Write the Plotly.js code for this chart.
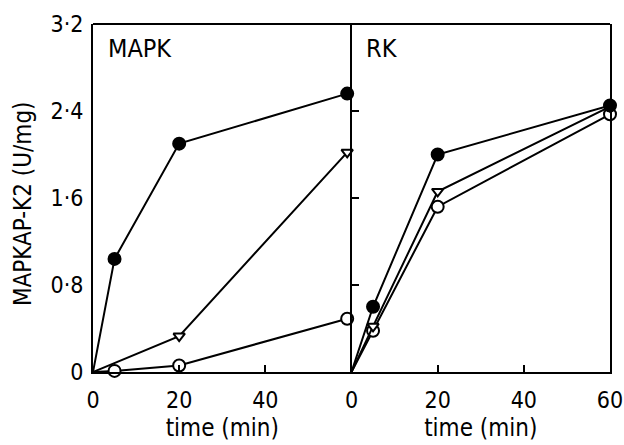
<!DOCTYPE html>
<html><head><meta charset="utf-8">
<script src="https://cdn.plot.ly/plotly-3.0.1.min.js"></script>
<style>body{margin:0;background:#fff}#c{width:624px;height:445px}</style>
</head><body><div id="c"></div>
<script>
// MAPK panel
const mapkFilledX = [0, 5, 20, 59];
const mapkFilledY = [0, 1.04, 2.10, 2.56];
const mapkTriX = [0, 20, 59];
const mapkTriY = [0, 0.33, 2.02];
const mapkOpenX = [0, 5, 20, 59];
const mapkOpenY = [0, 0.01, 0.06, 0.49];
// RK panel
const rkFilledX = [0, 5, 20, 60];
const rkFilledY = [0, 0.60, 2.00, 2.45];
const rkTriX = [0, 5, 20, 60];
const rkTriY = [0, 0.42, 1.66, 2.44];
const rkOpenX = [0, 5, 20, 60];
const rkOpenY = [0, 0.38, 1.52, 2.37];

const yTicks = [0, 0.8, 1.6, 2.4, 3.2];
const yTickText = ["0", "0·8", "1·6", "2·4", "3·2"];
const xTicksLeft = [0, 20, 40];
const xTicksRight = [0, 20, 40, 60];

const FONT = "DejaVu Sans Condensed, DejaVu Sans, sans-serif";
const line = {color: "#000", width: 2};
function tr(x, y, xa, ya, sym, fill) {
  return {x, y, xaxis: xa, yaxis: ya, type: "scatter", mode: "lines+markers",
    line, cliponaxis: false,
    marker: {symbol: sym, size: sym === "triangle-down" ? 10 : 12, color: fill,
      opacity: x.map(v => v === 0 ? 0 : 1),
      line: {color: "#000", width: 2}}};
}
const data = [
  tr(mapkOpenX, mapkOpenY, "x", "y", "circle", "#fff"),
  tr(mapkTriX, mapkTriY, "x", "y", "triangle-down", "#fff"),
  tr(mapkFilledX, mapkFilledY, "x", "y", "circle", "#000"),
  tr(rkOpenX, rkOpenY, "x2", "y2", "circle", "#fff"),
  tr(rkTriX, rkTriY, "x2", "y2", "triangle-down", "#fff"),
  tr(rkFilledX, rkFilledY, "x2", "y2", "circle", "#000"),
];
const axBase = {showgrid: false, zeroline: false, showline: true, linecolor: "#000",
  linewidth: 2, mirror: true, ticks: "inside", ticklen: 7, tickwidth: 2, tickcolor: "#000",
  ticklabeloverflow: "allow",
  tickfont: {family: FONT, size: 23, color: "#000"}, fixedrange: true};
const layout = {
  width: 624, height: 445, showlegend: false,
  paper_bgcolor: "#fff", plot_bgcolor: "#fff",
  margin: {l: 93, r: 14, t: 24, b: 73},
  font: {family: FONT, color: "#000"},
  xaxis: Object.assign({}, axBase, {domain: [0, 0.5], range: [0, 60],
    tickvals: xTicksLeft, mirror: false, ticklabelstandoff: 6,
    title: {text: "time (min)", font: {family: FONT, size: 24}, standoff: 8}}),
  xaxis2: Object.assign({}, axBase, {domain: [0.5, 1], range: [0, 60], anchor: "y2",
    tickvals: xTicksRight, mirror: false, ticklabelstandoff: 6,
    title: {text: "time (min)", font: {family: FONT, size: 24}, standoff: 8}}),
  yaxis: Object.assign({}, axBase, {range: [0, 3.2], tickvals: yTicks, ticktext: yTickText,
    ticks: "", ticklabelstandoff: 3, mirror: false,
    tickfont: {family: FONT, size: 23, color: "#000"}}),
  yaxis2: Object.assign({}, axBase, {range: [0, 3.2], anchor: "x2", tickvals: yTicks,
    showticklabels: false}),
  shapes: [
    {type: "line", xref: "paper", yref: "paper", x0: 0, x1: 1, y0: 1, y1: 1,
      line: {color: "#000", width: 2}}
  ],
  annotations: [
    {text: "MAPKAP-K2 (U/mg)", xref: "paper", yref: "paper", x: -0.135, y: 0.483,
      xanchor: "center", yanchor: "middle", textangle: -90, showarrow: false,
      font: {family: FONT, size: 24, color: "#000"}},
    {text: "MAPK", xref: "x", yref: "y", x: 3, y: 3.125, xanchor: "left", yanchor: "top",
      showarrow: false, font: {family: FONT, size: 25, color: "#000"}},
    {text: "RK", xref: "x2", yref: "y2", x: 3, y: 3.125, xanchor: "left", yanchor: "top",
      showarrow: false, font: {family: FONT, size: 25, color: "#000"}}
  ]
};
Plotly.newPlot("c", data, layout, {displayModeBar: false, staticPlot: true});
</script></body></html>
